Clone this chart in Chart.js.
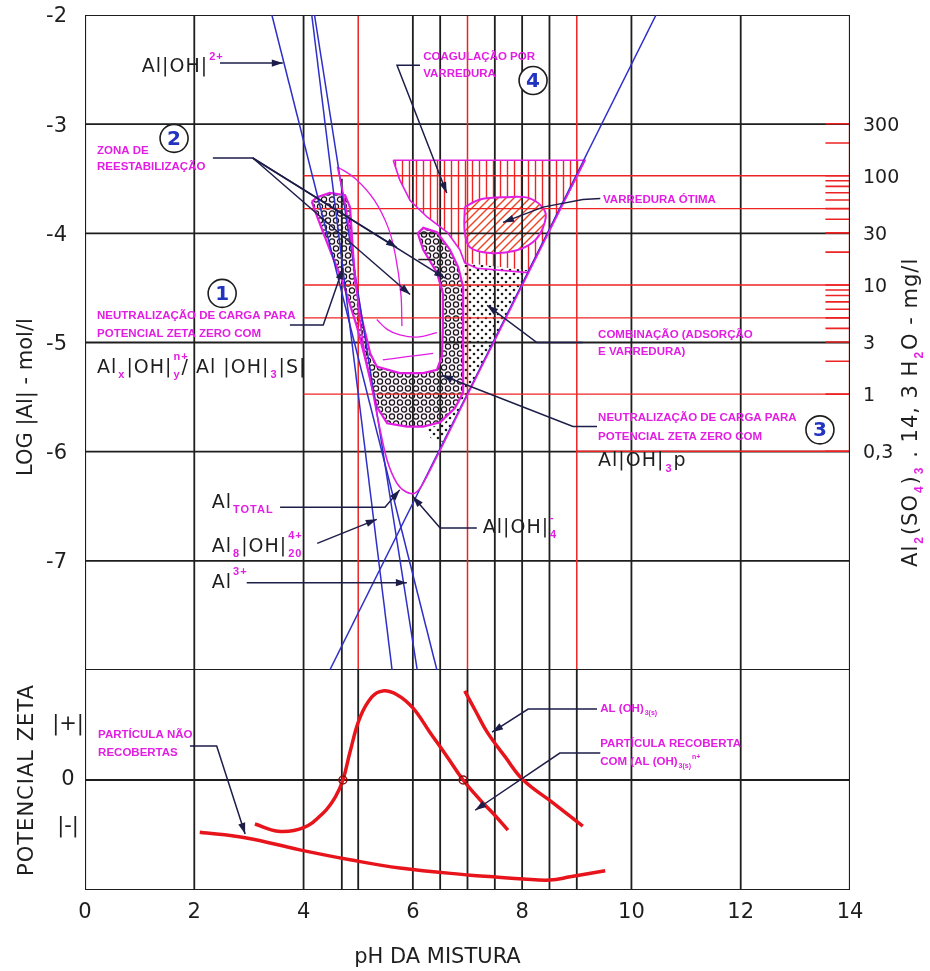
<!DOCTYPE html>
<html>
<head>
<meta charset="utf-8">
<script src="https://cdn.jsdelivr.net/npm/chart.js@4.4.1/dist/chart.umd.min.js"></script>
<style>
  html, body { margin: 0; padding: 0; background: #ffffff; }
  canvas { display: block; }
</style>
</head>
<body>
<canvas id="diagram" width="930" height="971"></canvas>
<script>
// ---------- axes ----------
const phTicks = [0, 2, 4, 6, 8, 10, 12, 14];
const logTicks = [-2, -3, -4, -5, -6, -7];
const zetaTickValues = [1, 0, -0.85];
const zetaTickLabels = ['|+|', '0', '|-|'];
const doseTickLabels = [300, 100, 30, 10, 3, 1, 0.3];            // mg/l
const doseMinorMarks = [200, 90, 80, 70, 60, 50, 40, 20, 9, 8, 7, 6, 5, 4, 2];
const ALUM_MG_PER_MOL_AL = 297200;   // Al2(SO4)3 . 14,3 H2O, mg per mol of Al

// ---------- grid ----------
const phGridBlack = [2, 4, 6, 6.5, 7.5, 8, 8.5, 10, 12];
const phGridRed = [5, 7, 9];
const logGrid = [-3, -4, -5, -6, -7];
const doseLinesMg = [100, 50, 10, 5, 1];
const zetaCrossPH = [4.72, 6.92];

// ---------- aluminium species (pH, log[Al]) ----------
const lineAlOH2 = [[3.42, -2], [6.44, -8]];
const lineAl3 = [[4.20, -2], [6.08, -8]];
const lineAl8 = [[4.15, -2], [5.62, -8]];
const lineAlOH4 = [[4.48, -8], [10.45, -2]];
const curveAlTotal = [[4.62, -3.39], [4.75, -3.70], [4.88, -4.10], [4.97, -4.50], [5.03, -4.79], [5.12, -5.10], [5.22, -5.34], [5.38, -5.75], [5.53, -6.08], [5.71, -6.29], [5.88, -6.37], [6.04, -6.38], [6.20, -6.28], [7.00, -5.48], [8.00, -4.48], [9.15, -3.33]];

// ---------- coagulation zones (pH, log[Al]) ----------
const zoneSweep = [[5.64, -3.33], [5.76, -3.51], [5.95, -3.70], [6.26, -3.85], [6.63, -3.99], [6.86, -4.15], [6.95, -4.27], [7.17, -4.32], [8.10, -4.36], [9.15, -3.33], [5.64, -3.33]];
const zoneOptimum = [[6.95, -3.76], [7.23, -3.69], [7.69, -3.67], [8.14, -3.68], [8.42, -3.80], [8.38, -3.95], [8.20, -4.08], [7.87, -4.16], [7.41, -4.18], [7.05, -4.13], [6.95, -3.99], [6.95, -3.76]];
const zoneCombined = [[6.92, -4.27], [8.14, -4.34], [6.55, -5.91], [6.35, -5.89], [6.22, -5.80], [6.59, -5.73], [6.83, -5.57], [6.92, -5.43], [6.92, -4.27]];
const zoneNeutral = [[4.15, -3.71], [4.25, -3.85], [4.48, -4.15], [4.72, -4.45], [4.98, -4.86], [5.12, -5.13], [5.22, -5.34], [5.34, -5.59], [5.53, -5.74], [5.89, -5.77], [6.19, -5.77], [6.50, -5.73], [6.77, -5.60], [6.92, -5.46], [6.92, -4.49], [6.83, -4.31], [6.68, -4.15], [6.44, -3.99], [6.19, -3.95], [6.09, -4.00], [6.19, -4.15], [6.44, -4.36], [6.55, -4.55], [6.55, -4.86], [6.53, -5.13], [6.44, -5.25], [6.19, -5.28], [5.76, -5.28], [5.34, -5.22], [5.22, -5.10], [5.07, -4.79], [4.94, -4.43], [4.89, -4.06], [4.85, -3.76], [4.76, -3.65], [4.48, -3.63], [4.25, -3.67], [4.15, -3.71]];
const restabEdge = [[4.62, -3.39], [4.95, -3.50], [5.30, -3.70], [5.55, -3.95], [5.68, -4.20], [5.78, -4.55], [5.80, -4.85]];
const restabArcUpper = [[5.34, -4.79], [5.53, -4.88], [5.76, -4.93], [6.08, -4.95], [6.44, -4.91]];
const restabArcLower = [[5.45, -5.16], [5.89, -5.13], [6.37, -5.10]];
const shortMark = [[6.10, -4.24], [6.40, -4.24]];

// ---------- zeta potential (pH, relative zeta) ----------
const zetaAdsorbed = [[3.11, -0.80], [3.53, -0.93], [3.99, -0.87], [4.36, -0.60], [4.58, -0.31], [4.72, 0], [4.85, 0.51], [5.03, 1.13], [5.25, 1.51], [5.45, 1.62], [5.71, 1.55], [6.00, 1.31], [6.31, 0.87], [6.63, 0.42], [6.92, 0], [7.23, -0.36], [7.50, -0.64], [7.74, -0.91]];
const zetaHydroxide = [[6.95, 1.62], [7.15, 1.25], [7.36, 0.87], [7.69, 0.42], [8.02, 0], [8.57, -0.42], [9.11, -0.84]];
const zetaUncoated = [[2.10, -0.95], [2.93, -1.05], [3.93, -1.27], [4.85, -1.45], [5.76, -1.60], [7.05, -1.73], [7.47, -1.76], [8.02, -1.80], [8.51, -1.82], [8.88, -1.76], [9.52, -1.65]];

// ---------- leader lines (arrow at the last point) ----------
const leadAlOH2 = [[2.47, -2.44], [3.62, -2.44]];
const leadRestabA = [[2.34, -3.31], [3.07, -3.31], [5.71, -4.13]];
const leadRestabB = [[3.07, -3.31], [5.95, -4.56]];
const leadRestabC = [[3.07, -3.31], [6.59, -4.41]];
const leadNeutral1 = [[3.75, -4.84], [4.36, -4.84], [4.72, -4.32]];
const leadSweep = [[6.13, -2.46], [5.71, -2.46], [6.62, -3.63]];
const leadOptimum = [[9.43, -3.68], [9.11, -3.69], [8.38, -3.76], [7.65, -3.90]];
const leadCombined = [[9.11, -5.00], [8.27, -5.00], [7.36, -4.66]];
const leadNeutral3 = [[9.37, -5.77], [8.93, -5.77], [6.53, -5.30]];
const leadAlTotal = [[3.57, -6.51], [5.49, -6.51], [5.76, -6.35]];
const leadAl8 = [[4.25, -6.84], [5.34, -6.62]];
const leadAl3 = [[2.96, -7.20], [5.89, -7.20]];
const leadAlOH4 = [[7.17, -6.70], [6.50, -6.70], [6.00, -6.41]];
const leadUncoated = [[1.92, 0.62], [2.41, 0.62], [2.93, -0.98]];
const leadHydroxide = [[9.37, 1.29], [8.11, 1.29], [7.45, 0.87]];
const leadCoated = [[9.43, 0.49], [8.69, 0.49], [7.14, -0.55]];

// ---------- annotation text ----------
const noteLines = [
  ['ZONA DE', 0.22, -3.24], ['REESTABILIZAÇÃO', 0.22, -3.39],
  ['COAGULAÇÃO POR', 6.19, -2.38], ['VARREDURA', 6.19, -2.54],
  ['VARREDURA ÓTIMA', 9.48, -3.69],
  ['NEUTRALIZAÇÃO DE CARGA PARA', 0.22, -4.76], ['POTENCIAL ZETA ZERO COM', 0.22, -4.92],
  ['COMBINAÇÃO (ADSORÇÃO', 9.39, -4.93], ['E VARREDURA)', 9.39, -5.09],
  ['NEUTRALIZAÇÃO DE CARGA PARA', 9.39, -5.69], ['POTENCIAL ZETA ZERO COM', 9.39, -5.86]
];
const zetaNoteLines = [
  ['PARTÍCULA NÃO', 0.24, 0.82], ['RECOBERTAS', 0.24, 0.49],
  ['PARTÍCULA RECOBERTA', 9.43, 0.65]
];
const zoneNumbers = [['1', 2.51, -4.55], ['2', 1.63, -3.13], ['3', 13.45, -5.80], ['4', 8.20, -2.60]];

const INK = '#1e1e1e', RED = '#ee2424', BLUE = '#2e2ec8', MAGENTA = '#e21ee2', LEADER = '#1d1d4a', ZETA = '#e8141c';

const doseToLog = mg => Math.log10(mg / ALUM_MG_PER_MOL_AL);
const pts = a => a.map(([x, y]) => ({ x, y }));
function segments(list) {
  const out = [];
  list.forEach(([x0, y0, x1, y1]) => out.push({ x: x0, y: y0 }, { x: x1, y: y1 }, { x: x1, y: null }));
  return out;
}

// ---------- fill patterns ----------
function makePattern(w, h, draw) {
  const cv = document.createElement('canvas');
  cv.width = w; cv.height = h;
  const g = cv.getContext('2d');
  draw(g, w, h);
  return g.createPattern(cv, 'repeat');
}
const patterns = {
  rings: makePattern(16, 14, (g, w, h) => {
    g.fillStyle = '#fdf3fd'; g.fillRect(0, 0, w, h);
    g.strokeStyle = '#151515'; g.lineWidth = 1.2;
    [[4, 3.5], [12, 3.5], [0, 10.5], [8, 10.5], [16, 10.5]].forEach(([x, y]) => { g.beginPath(); g.arc(x, y, 2.6, 0, Math.PI * 2); g.stroke(); });
  }),
  dots: makePattern(8, 8, (g, w, h) => {
    g.fillStyle = '#ffffff'; g.fillRect(0, 0, w, h);
    g.fillStyle = '#1a1a1a';
    [[2, 2], [6, 6]].forEach(([x, y]) => { g.beginPath(); g.arc(x, y, 1.3, 0, Math.PI * 2); g.fill(); });
  }),
  vhatch: makePattern(7, 7, (g, w, h) => {
    g.fillStyle = '#ffffff'; g.fillRect(0, 0, w, h);
    g.strokeStyle = RED; g.lineWidth = 1.4;
    g.beginPath(); g.moveTo(3.5, 0); g.lineTo(3.5, h); g.stroke();
  }),
  dhatch: makePattern(8, 8, (g, w, h) => {
    g.fillStyle = '#ffffff'; g.fillRect(0, 0, w, h);
    g.strokeStyle = '#f04020'; g.lineWidth = 1.4;
    g.beginPath(); g.moveTo(-1, 9); g.lineTo(9, -1); g.moveTo(-1, 1); g.lineTo(1, -1); g.moveTo(7, 9); g.lineTo(9, 7); g.stroke();
  })
};

// ---------- datasets ----------
const datasets = [];
function add(data, opt) {
  datasets.push(Object.assign({ data, showLine: true, pointRadius: 0, borderWidth: 1.5, fill: false, tension: 0, yAxisID: 'y', order: 5 }, opt));
}

// frame and grid
add(segments(logGrid.map(v => [0, v, 14, v])), { borderColor: INK, borderWidth: 1.8, order: 20 });
add(segments(phGridBlack.map(v => [v, -2, v, -8])), { borderColor: INK, borderWidth: 1.8, order: 20 });
add(segments([[4.7, -3.5, 4.7, -8]]), { borderColor: INK, borderWidth: 1.8, order: 20 });
add(segments(doseLinesMg.map(mg => [4, doseToLog(mg), 14, doseToLog(mg)])), { borderColor: RED, borderWidth: 1.4, order: 19 });
add(segments([[9, doseToLog(0.3), 14, doseToLog(0.3)]]), { borderColor: RED, borderWidth: 1.6, order: 19 });
add(segments(phGridRed.map(v => [v, -2, v, -8])), { borderColor: RED, borderWidth: 1.5, order: 19 });
add(segments(doseTickLabels.concat(doseMinorMarks).map(mg => [13.55, doseToLog(mg), 14, doseToLog(mg)])), { borderColor: RED, borderWidth: 1.6, order: 18 });
add(segments([[14, doseToLog(300), 14, doseToLog(0.3)]]), { borderColor: RED, borderWidth: 2.2, order: 17 });
add(pts([[0, -2], [14, -2], [14, -8], [0, -8], [0, -2]]), { borderColor: INK, borderWidth: 2.2, order: 16 });
add(segments(phGridBlack.concat(phGridRed, [4.7]).map(v => [v, 2, v, -2])), { borderColor: INK, borderWidth: 1.8, yAxisID: 'yz', order: 20 });
add(segments([[0, 0, 14, 0]]), { borderColor: INK, borderWidth: 1.8, yAxisID: 'yz', order: 20 });
add(pts([[0, 2], [0, -2], [14, -2], [14, 2]]), { borderColor: INK, borderWidth: 2.2, yAxisID: 'yz', order: 16 });

// zones (filled by the regionFill plugin, outlined here)
add(pts(zoneSweep), { borderColor: MAGENTA, borderWidth: 1.6, region: 'vhatch', order: 8 });
add(pts(zoneOptimum), { borderColor: MAGENTA, borderWidth: 2, tension: 0.35, region: 'dhatch', order: 8 });
add(pts(zoneCombined), { borderColor: 'rgba(0,0,0,0)', borderWidth: 0, region: 'dots', order: 8 });
add(pts(zoneNeutral), { borderColor: MAGENTA, borderWidth: 2.2, region: 'rings', order: 8 });
add(pts(restabEdge), { borderColor: MAGENTA, borderWidth: 1.3, tension: 0.4, order: 7 });
add(pts(restabArcUpper), { borderColor: MAGENTA, borderWidth: 1.3, tension: 0.4, order: 7 });
add(pts(restabArcLower), { borderColor: MAGENTA, borderWidth: 1.3, tension: 0.4, order: 7 });
add(pts(shortMark), { borderColor: INK, borderWidth: 1.5, order: 7 });

// species lines
add(pts(lineAlOH2), { borderColor: BLUE, borderWidth: 1.5, order: 4 });
add(pts(lineAl3), { borderColor: BLUE, borderWidth: 1.5, order: 4 });
add(pts(lineAl8), { borderColor: BLUE, borderWidth: 1.5, order: 4 });
add(pts(lineAlOH4), { borderColor: BLUE, borderWidth: 1.5, order: 4 });
add(pts(curveAlTotal), { borderColor: MAGENTA, borderWidth: 1.6, tension: 0.3, order: 3 });

// zeta potential curves
add(pts(zetaAdsorbed), { borderColor: ZETA, borderWidth: 3.5, tension: 0.4, yAxisID: 'yz', order: 3 });
add(pts(zetaHydroxide), { borderColor: ZETA, borderWidth: 3.5, tension: 0.4, yAxisID: 'yz', order: 3 });
add(pts(zetaUncoated), { borderColor: ZETA, borderWidth: 3.5, tension: 0.4, yAxisID: 'yz', order: 3 });
add(zetaCrossPH.map(x => ({ x, y: 0 })), { showLine: false, pointRadius: 4, pointBorderWidth: 1.5, pointBorderColor: '#8a1010', pointBackgroundColor: 'rgba(0,0,0,0)', yAxisID: 'yz', order: 2 });

// leaders
[leadAlOH2, leadRestabA, leadRestabB, leadRestabC, leadNeutral1, leadSweep, leadOptimum, leadCombined, leadNeutral3, leadAlTotal, leadAl8, leadAl3, leadAlOH4]
  .forEach(l => add(pts(l), { borderColor: LEADER, borderWidth: 1.5, arrow: true, order: 1 }));
[leadUncoated, leadHydroxide, leadCoated]
  .forEach(l => add(pts(l), { borderColor: LEADER, borderWidth: 1.5, arrow: true, yAxisID: 'yz', order: 1 }));

// ---------- plugins ----------
const regionFill = {
  id: 'regionFill',
  beforeDatasetsDraw(chart) {
    const c = chart.ctx, a = chart.chartArea;
    c.save();
    c.beginPath(); c.rect(a.left, a.top, a.right - a.left, a.bottom - a.top); c.clip();
    chart.data.datasets.forEach((ds, i) => {
      if (!ds.region) return;
      const el = chart.getDatasetMeta(i).data;
      c.beginPath();
      el.forEach((p, k) => {
        if (k === 0) { c.moveTo(p.x, p.y); return; }
        const q = el[k - 1];
        if (ds.tension && q.cp2x !== undefined && p.cp1x !== undefined) c.bezierCurveTo(q.cp2x, q.cp2y, p.cp1x, p.cp1y, p.x, p.y);
        else c.lineTo(p.x, p.y);
      });
      c.closePath();
      c.fillStyle = patterns[ds.region];
      c.fill();
    });
    c.restore();
  }
};

const arrowHeads = {
  id: 'arrowHeads',
  afterDatasetsDraw(chart) {
    const c = chart.ctx;
    chart.data.datasets.forEach((ds, i) => {
      if (!ds.arrow) return;
      const el = chart.getDatasetMeta(i).data;
      const p1 = el[el.length - 1], p0 = el[el.length - 2];
      const ang = Math.atan2(p1.y - p0.y, p1.x - p0.x);
      c.save();
      c.translate(p1.x, p1.y); c.rotate(ang);
      c.fillStyle = LEADER;
      c.beginPath(); c.moveTo(0, 0); c.lineTo(-11, -3.6); c.lineTo(-11, 3.6); c.closePath(); c.fill();
      c.restore();
    });
  }
};

function richFont(k, size) {
  return k ? 'bold ' + Math.round(size * 0.58) + 'px "Liberation Sans", sans-serif' : size + 'px "DejaVu Sans", sans-serif';
}
function richWidth(c, parts, size) {
  let w = 0;
  parts.forEach(([t, k, hold]) => {
    c.font = richFont(k, size);
    if (!hold) w += c.measureText(t).width + (k ? 2 : 0);
  });
  return w;
}
function richText(c, x, y, parts, size) {
  let cx = x;
  parts.forEach(([t, k, hold]) => {
    c.font = richFont(k, size);
    if (!k) {
      c.fillStyle = INK;
      c.fillText(t, cx, y); cx += c.measureText(t).width;
    } else {
      c.fillStyle = MAGENTA;
      c.fillText(t, cx + 1, y + (k === 'sub' ? size * 0.38 : -size * 0.55));
      if (!hold) cx += c.measureText(t).width + 2;
    }
  });
}

const textLayer = {
  id: 'textLayer',
  afterDatasetsDraw(chart) {
    const c = chart.ctx, a = chart.chartArea;
    const X = v => chart.scales.x.getPixelForValue(v);
    const Y = v => chart.scales.y.getPixelForValue(v);
    const Z = v => chart.scales.yz.getPixelForValue(v);
    c.save();
    c.textBaseline = 'middle';
    c.fillStyle = INK;

    // tick labels
    c.font = '21px "Liberation Sans Narrow", "DejaVu Sans", sans-serif';
    c.textAlign = 'center';
    phTicks.forEach(v => c.fillText(String(v), X(v), a.bottom + 23));
    c.textAlign = 'right';
    logTicks.forEach(v => c.fillText(String(v), a.left - 18, Y(v) + 2));
    c.textAlign = 'center';
    zetaTickValues.forEach((v, i) => c.fillText(zetaTickLabels[i], a.left - 17, Z(v)));
    c.textAlign = 'left';
    c.font = '19px "Liberation Sans Narrow", "DejaVu Sans", sans-serif';
    doseTickLabels.forEach(mg => c.fillText(String(mg).replace('.', ','), a.right + 13, Y(doseToLog(mg)) + 2));

    // axis titles
    c.font = '21px "DejaVu Sans", sans-serif';
    c.textAlign = 'center';
    c.fillText('pH DA MISTURA', X(6.45), a.bottom + 68);
    c.save(); c.translate(27, Y(-5.5)); c.rotate(-Math.PI / 2); c.fillText('LOG |Al| - mol/l', 0, 0); c.restore();
    c.letterSpacing = '1px';
    c.save(); c.translate(28, Z(0)); c.rotate(-Math.PI / 2); c.fillText('POTENCIAL ZETA', 0, 0); c.restore();
    const rightTitle = [['Al'], ['2', 'sub'], ['(SO'], ['4', 'sub'], [')'], ['3', 'sub'], [' . 14, 3 H'], ['2', 'sub'], ['O - mg/l']];
    c.save(); c.translate(912, Y(-5.64)); c.rotate(-Math.PI / 2);
    c.textAlign = 'left';
    const rw = richWidth(c, rightTitle, 21);
    richText(c, -rw / 2, 0, rightTitle, 21);
    c.restore();

    // species labels
    c.textAlign = 'left';
    const S = 19;
    richText(c, X(1.04), Y(-2.48), [['Al|OH|'], ['2+', 'sup']], S);
    richText(c, X(0.22), Y(-5.23), [['Al'], ['x', 'sub'], ['|OH|'], ['n+', 'sup', true], ['y', 'sub'], ['/ Al |OH|'], ['3', 'sub'], ['|S|']], S);
    richText(c, X(2.32), Y(-6.47), [['Al'], ['TOTAL', 'sub']], S);
    richText(c, X(2.32), Y(-6.87), [['Al'], ['8', 'sub'], ['|OH|'], ['4+', 'sup', true], ['20', 'sub']], S);
    richText(c, X(2.32), Y(-7.20), [['Al'], ['3+', 'sup']], S);
    richText(c, X(7.28), Y(-6.70), [['Al|OH|'], ['-', 'sup', true], ['4', 'sub']], S);
    richText(c, X(9.39), Y(-6.09), [['Al|OH|'], ['3', 'sub'], ['p']], S);
    c.letterSpacing = '0px';

    // zone notes
    c.font = 'bold 11.5px "Liberation Sans", sans-serif';
    c.fillStyle = MAGENTA;
    noteLines.forEach(([t, x, y]) => c.fillText(t, X(x), Y(y)));
    zetaNoteLines.forEach(([t, x, y]) => c.fillText(t, X(x), Z(y)));
    const small = (t, x, y) => { c.font = 'bold 11.5px "Liberation Sans", sans-serif'; c.fillText(t, x, y); return x + c.measureText(t).width; };
    const tiny = (t, x, y) => { c.font = 'bold 7px "Liberation Sans", sans-serif'; c.fillText(t, x, y); return x + c.measureText(t).width; };
    let cx = small('AL (OH)', X(9.43), Z(1.29));
    tiny('3(s)', cx + 1, Z(1.29) + 4);
    cx = small('COM (AL (OH)', X(9.43), Z(0.33));
    cx = tiny('3(s)', cx + 1, Z(0.33) + 4);
    tiny('n+', cx + 1, Z(0.33) - 5);

    // numbered zones
    zoneNumbers.forEach(([n, x, y]) => {
      const px = X(x), py = Y(y);
      c.beginPath(); c.arc(px, py, 14, 0, Math.PI * 2);
      c.fillStyle = '#ffffff'; c.fill();
      c.strokeStyle = INK; c.lineWidth = 1.6; c.stroke();
      c.fillStyle = '#2233c0'; c.font = 'bold 20px "DejaVu Sans", sans-serif'; c.textAlign = 'center';
      c.fillText(n, px, py + 1);
      c.textAlign = 'left';
    });
    c.restore();
  }
};

new Chart(document.getElementById('diagram'), {
  type: 'scatter',
  data: { datasets },
  options: {
    responsive: false,
    animation: false,
    events: [],
    layout: { padding: { left: 85, right: 80, top: 15, bottom: 81 } },
    plugins: { legend: { display: false }, tooltip: { enabled: false } },
    scales: {
      x: { type: 'linear', min: 0, max: 14, ticks: { display: false }, grid: { display: false, drawTicks: false }, border: { display: false } },
      yz: { type: 'linear', position: 'left', stack: 'panels', stackWeight: 220, min: -2, max: 2, ticks: { display: false }, grid: { display: false, drawTicks: false }, border: { display: false } },
      y: { type: 'linear', position: 'left', stack: 'panels', stackWeight: 655, min: -8, max: -2, ticks: { display: false }, grid: { display: false, drawTicks: false }, border: { display: false } }
    }
  },
  plugins: [regionFill, arrowHeads, textLayer]
});
</script>
</body>
</html>
